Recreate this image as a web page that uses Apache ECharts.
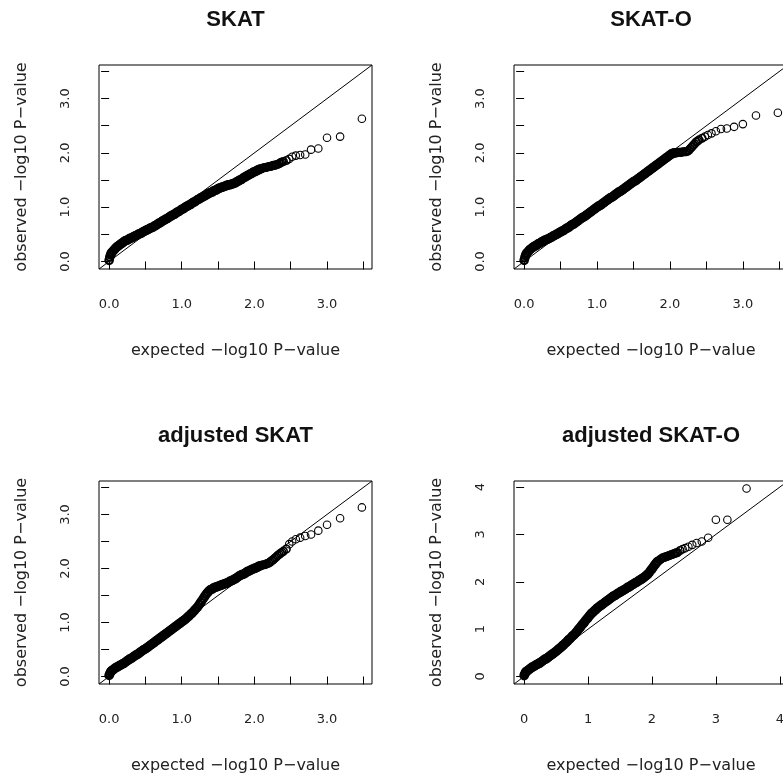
<!DOCTYPE html>
<html><head><meta charset="utf-8">
<script src="https://cdn.jsdelivr.net/npm/echarts@6/dist/echarts.min.js"></script>
<style>html,body{margin:0;padding:0;background:#fff}#c{width:783px;height:779px}</style>
</head><body><div id="c"></div>
<script>
const panelTitles = ['SKAT', 'SKAT-O', 'adjusted SKAT', 'adjusted SKAT-O'];
const xAxisTitle = 'expected \u2212log10 P\u2212value';
const yAxisTitle = 'observed \u2212log10 P\u2212value';

// expected -log10 P (shared by all four panels)
const expected = [
 0,0.01,0.02,0.03,0.04,0.06,0.08,0.10,0.12,0.14,
 0.16,0.18,0.20,0.22,0.24,0.26,0.28,0.30,0.32,0.34,
 0.36,0.38,0.40,0.42,0.44,0.46,0.48,0.50,0.52,0.54,
 0.56,0.58,0.60,0.62,0.64,0.66,0.68,0.70,0.72,0.74,
 0.76,0.78,0.80,0.82,0.84,0.86,0.88,0.90,0.92,0.94,
 0.96,0.98,1.00,1.02,1.04,1.06,1.08,1.10,1.12,1.14,
 1.16,1.18,1.20,1.22,1.24,1.26,1.28,1.30,1.32,1.34,
 1.36,1.38,1.40,1.42,1.44,1.46,1.48,1.50,1.52,1.54,
 1.56,1.58,1.60,1.62,1.64,1.66,1.68,1.70,1.72,1.74,
 1.76,1.78,1.80,1.82,1.84,1.86,1.88,1.90,1.92,1.94,
 1.96,1.98,2.00,2.02,2.04,2.06,2.08,2.10,2.12,2.14,
 2.16,2.18,2.20,2.22,2.24,2.26,2.28,2.30,2.32,2.34,
 2.36,2.38,2.40,2.44,2.48,2.52,2.57,2.63,2.70,2.78,
 2.88,3.00,3.18,3.48
];

const observedSKAT = [
 0.02,0.08,0.12,0.15,0.17,0.20,0.23,0.26,0.28,0.30,
 0.32,0.34,0.36,0.38,0.39,0.40,0.42,0.43,0.44,0.46,
 0.47,0.48,0.50,0.51,0.52,0.54,0.55,0.57,0.58,0.59,
 0.61,0.62,0.63,0.65,0.66,0.68,0.70,0.71,0.73,0.75,
 0.76,0.78,0.79,0.81,0.83,0.84,0.86,0.87,0.89,0.91,
 0.92,0.94,0.96,0.97,0.99,1.01,1.02,1.04,1.05,1.07,
 1.09,1.10,1.12,1.14,1.15,1.17,1.18,1.20,1.21,1.23,
 1.24,1.26,1.27,1.28,1.30,1.31,1.32,1.34,1.35,1.36,
 1.37,1.38,1.39,1.40,1.41,1.41,1.42,1.43,1.44,1.45,
 1.47,1.48,1.50,1.51,1.53,1.55,1.56,1.58,1.59,1.61,
 1.62,1.64,1.65,1.66,1.68,1.69,1.70,1.71,1.72,1.73,
 1.73,1.74,1.75,1.75,1.76,1.77,1.77,1.78,1.79,1.80,
 1.82,1.83,1.84,1.86,1.89,1.93,1.95,1.96,1.97,2.06,
 2.08,2.28,2.30,2.63
];

const observedSKATO = [
 0.02,0.07,0.11,0.14,0.16,0.19,0.22,0.24,0.26,0.28,
 0.29,0.31,0.33,0.34,0.36,0.37,0.39,0.40,0.41,0.42,
 0.44,0.45,0.47,0.48,0.50,0.51,0.53,0.54,0.56,0.57,
 0.59,0.61,0.62,0.64,0.66,0.68,0.69,0.71,0.73,0.75,
 0.77,0.79,0.81,0.82,0.84,0.86,0.88,0.90,0.92,0.94,
 0.96,0.98,1.00,1.02,1.03,1.05,1.07,1.09,1.11,1.13,
 1.15,1.17,1.18,1.20,1.22,1.24,1.26,1.28,1.29,1.31,
 1.33,1.35,1.37,1.39,1.41,1.43,1.45,1.47,1.48,1.50,
 1.52,1.54,1.56,1.58,1.60,1.62,1.64,1.66,1.68,1.70,
 1.72,1.74,1.76,1.78,1.80,1.82,1.84,1.86,1.88,1.90,
 1.92,1.94,1.96,1.98,1.99,2.00,2.00,2.01,2.01,2.01,
 2.01,2.02,2.02,2.02,2.03,2.05,2.08,2.11,2.14,2.17,
 2.20,2.22,2.24,2.27,2.30,2.33,2.36,2.40,2.44,2.45,
 2.48,2.53,2.69,2.74
];

const observedAdjSKAT = [
 0.02,0.05,0.08,0.10,0.11,0.13,0.15,0.17,0.18,0.20,
 0.21,0.23,0.24,0.26,0.28,0.30,0.32,0.33,0.35,0.37,
 0.39,0.40,0.42,0.44,0.46,0.48,0.50,0.51,0.53,0.55,
 0.57,0.59,0.61,0.63,0.65,0.67,0.69,0.71,0.73,0.75,
 0.77,0.79,0.81,0.83,0.85,0.87,0.89,0.91,0.93,0.95,
 0.97,0.99,1.01,1.03,1.05,1.07,1.10,1.12,1.15,1.17,
 1.20,1.23,1.26,1.29,1.33,1.37,1.41,1.45,1.49,1.53,
 1.56,1.59,1.61,1.62,1.64,1.65,1.66,1.67,1.68,1.69,
 1.70,1.71,1.72,1.73,1.74,1.76,1.77,1.78,1.80,1.81,
 1.83,1.85,1.87,1.88,1.89,1.90,1.92,1.94,1.95,1.96,
 1.98,1.99,2.00,2.01,2.02,2.04,2.05,2.06,2.07,2.07,
 2.08,2.09,2.10,2.12,2.14,2.16,2.19,2.21,2.24,2.26,
 2.28,2.30,2.32,2.36,2.45,2.50,2.54,2.57,2.60,2.63,
 2.70,2.81,2.93,3.13
];

const observedAdjSKATO = [
 0.02,0.05,0.08,0.10,0.11,0.13,0.15,0.17,0.19,0.21,
 0.22,0.24,0.25,0.27,0.28,0.30,0.32,0.34,0.36,0.37,
 0.39,0.41,0.43,0.45,0.47,0.49,0.51,0.53,0.55,0.58,
 0.60,0.62,0.65,0.67,0.70,0.72,0.75,0.78,0.80,0.83,
 0.86,0.88,0.91,0.94,0.98,1.01,1.04,1.08,1.11,1.14,
 1.18,1.21,1.24,1.28,1.31,1.34,1.36,1.39,1.41,1.44,
 1.46,1.48,1.50,1.52,1.54,1.56,1.58,1.60,1.62,1.64,
 1.66,1.68,1.70,1.71,1.73,1.75,1.76,1.78,1.80,1.81,
 1.83,1.84,1.86,1.88,1.89,1.91,1.93,1.94,1.96,1.98,
 1.99,2.01,2.03,2.04,2.06,2.08,2.10,2.12,2.14,2.17,
 2.20,2.24,2.27,2.31,2.35,2.38,2.42,2.44,2.46,2.48,
 2.50,2.51,2.52,2.53,2.54,2.55,2.56,2.57,2.58,2.59,
 2.60,2.61,2.62,2.66,2.69,2.71,2.74,2.78,2.82,2.85,
 2.93,3.31,3.31,3.97
];

const ticksHalf = [0, 0.5, 1, 1.5, 2, 2.5, 3, 3.5];
const labelsHalf = [0, 1, 2, 3];
const ticksUnit = [0, 1, 2, 3, 4];
const labelsUnit = [0, 1, 2, 3, 4];

const panels = [
  {title: panelTitles[0], obs: observedSKAT,     left: 99,  top: 65,  width: 273, height: 204, titleTop: 9,   ticks: ticksHalf, labels: labelsHalf, fmt: v => Number(v).toFixed(1)},
  {title: panelTitles[1], obs: observedSKATO,    left: 514, top: 65,  width: 274, height: 204, titleTop: 9,   ticks: ticksHalf, labels: labelsHalf, fmt: v => Number(v).toFixed(1)},
  {title: panelTitles[2], obs: observedAdjSKAT,  left: 99,  top: 481, width: 273, height: 203, titleTop: 425, ticks: ticksHalf, labels: labelsHalf, fmt: v => Number(v).toFixed(1)},
  {title: panelTitles[3], obs: observedAdjSKATO, left: 514, top: 481, width: 274, height: 203, titleTop: 425, ticks: ticksUnit, labels: labelsUnit, fmt: v => String(Math.round(v))}
];

const FONT = 'DejaVu Sans';
// stroke weight: overplotted dense part looks solid, sparse tail shows thin open circles
function strokeFor(e) { return e < 2.1 ? 2.2 : (e < 2.45 ? 1.6 : 1.1); }

const grid = [], xAxis = [], yAxis = [], series = [], title = [];
panels.forEach((p, i) => {
  const lim = Math.max(Math.max(...expected), Math.max(...p.obs));
  const lo = -0.04 * lim, hi = lim * 1.04;
  grid.push({left: p.left, top: p.top, width: p.width, height: p.height, show: true,
    borderColor: '#000', borderWidth: 1, backgroundColor: 'transparent', containLabel: false, outerBoundsMode: 'none'});
  const label = {customValues: p.labels, formatter: p.fmt, fontSize: 13, color: '#222', fontFamily: FONT};
  const common = {type: 'value', gridIndex: i, min: lo, max: hi, splitLine: {show: false},
    axisLine: {show: false},
    axisTick: {show: true, length: 8, lineStyle: {color: '#000', width: 1}, customValues: p.ticks},
    nameLocation: 'middle', nameTextStyle: {fontSize: 16, color: '#222', fontFamily: FONT}};
  xAxis.push(Object.assign({}, common, {name: xAxisTitle, nameGap: 74, axisLabel: Object.assign({}, label, {margin: 29})}));
  yAxis.push(Object.assign({}, common, {name: yAxisTitle, nameGap: 69, nameRotate: 90, axisLabel: Object.assign({}, label, {margin: 27, rotate: 90})}));
  series.push({type: 'line', xAxisIndex: i, yAxisIndex: i, data: [[lo, lo], [hi, hi]], symbol: 'none', showSymbol: false,
    lineStyle: {color: '#000', width: 1}, silent: true, z: 1, clip: true});
  series.push({type: 'scatter', xAxisIndex: i, yAxisIndex: i,
    data: expected.map((e, k) => ({value: [e, p.obs[k]], itemStyle: {borderWidth: strokeFor(e)}})),
    symbol: 'circle', symbolSize: 7.5, silent: true, z: 2,
    itemStyle: {color: 'rgba(0,0,0,0)', borderColor: '#000', borderWidth: 1, opacity: 1}});
  title.push({text: p.title, left: p.left + p.width / 2, top: p.titleTop, textAlign: 'center', padding: 0,
    textStyle: {fontSize: 22, fontWeight: 'bold', color: '#111', fontFamily: 'Liberation Sans'}});
});

const chart = echarts.init(document.getElementById('c'), null, {renderer: 'canvas'});
chart.setOption({animation: false, backgroundColor: '#fff', textStyle: {fontFamily: FONT}, title, grid, xAxis, yAxis, series});
</script></body></html>
